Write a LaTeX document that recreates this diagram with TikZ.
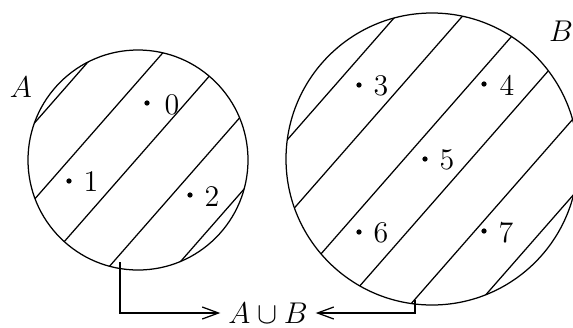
\documentclass[tikz,border=0pt]{standalone}
\usetikzlibrary{arrows.meta}
\begin{document}
\begin{tikzpicture}[x=0.4pt,y=-0.4pt,line width=0.5pt,
  setcirc/.style={draw,circle,inner sep=0pt},
  dotn/.style={circle,fill,inner sep=0pt,minimum size=2.1pt},
  lab/.style={inner sep=0pt,font=\large},
  conn/.style={-{Straight Barb[length=6.5pt,width=4.8pt]}}]
\useasboundingbox (0,0) rectangle (573,327);
% sets
\node[setcirc,minimum size=88pt] (A) at (138,160) {};
\node[setcirc,minimum size=116.8pt] (B) at (432,159) {};
% hatching
\begin{scope}
  \clip (138,160) circle[radius=110] (432,159) circle[radius=146];
  \foreach \k in {0,...,9}{
    \pgfmathsetmacro\c{107+50.3*\k}
    \draw ({\c*0.752-400*0.659},{\c*0.659+400*0.752}) -- ({\c*0.752+400*0.659},{\c*0.659-400*0.752});
  }
\end{scope}
% set labels
\node[lab] (LA) at (21,87) {$A$};
\node[lab] (LB) at (561,31) {$B$};
% elements
\node[dotn] (d0) at (147,103) {}; \node[lab] (e0) at (172,105) {$0$};
\node[dotn] (d1) at (69,181) {};  \node[lab] (e1) at (91,182) {$1$};
\node[dotn] (d2) at (190,195) {}; \node[lab] (e2) at (212,197) {$2$};
\node[dotn] (d3) at (359,85) {};  \node[lab] (e3) at (381,86) {$3$};
\node[dotn] (d4) at (484,84) {};  \node[lab] (e4) at (507,86) {$4$};
\node[dotn] (d5) at (425,159) {}; \node[lab] (e5) at (447,160) {$5$};
\node[dotn] (d6) at (359,232) {}; \node[lab] (e6) at (381,233) {$6$};
\node[dotn] (d7) at (484,231) {}; \node[lab] (e7) at (506,233) {$7$};
% union
\node[inner sep=3pt,font=\large] (U) at (268,313) {$A\cup B$};
\coordinate (a0) at (120,262);
\coordinate (b0) at (415,300);
\draw[conn] (a0) |- (U.west);
\draw[conn] (b0) |- (U.east);
\end{tikzpicture}
\end{document}
